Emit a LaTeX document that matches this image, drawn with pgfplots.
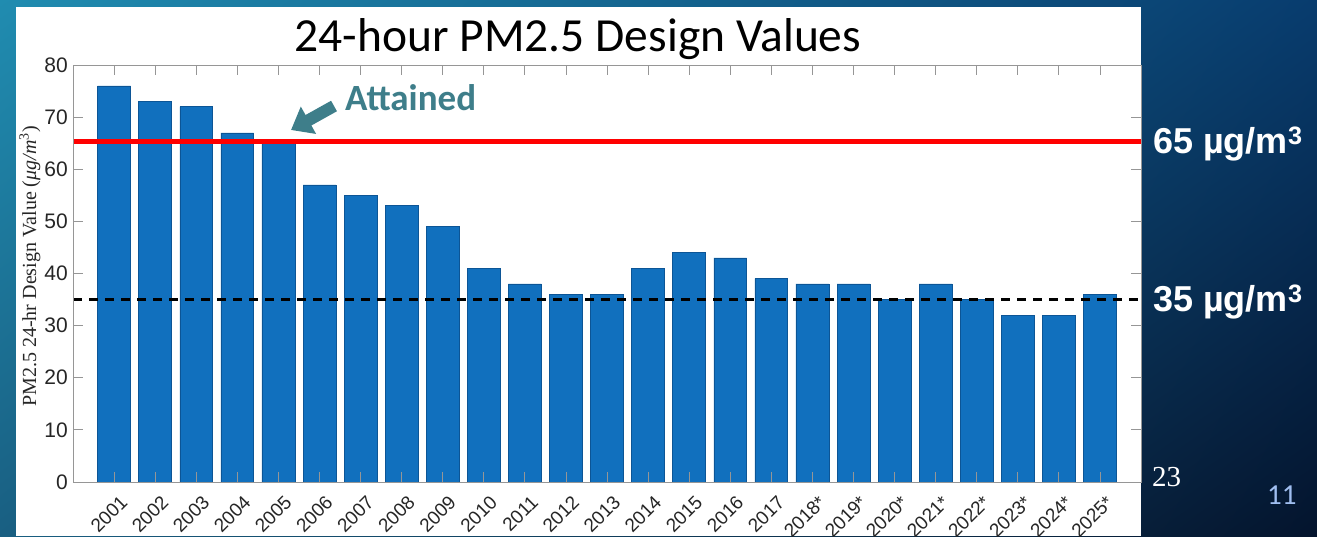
\documentclass[border=0pt]{standalone}
\usepackage{fontspec}
\setmainfont{Liberation Sans}
\newfontfamily\serifont{Liberation Serif}
\newfontfamily\carlito{Carlito}
\usepackage{pgfplots}
\pgfplotsset{compat=1.18}
\usetikzlibrary{arrows.meta,shadings}
\definecolor{barblue}{RGB}{17,112,190}
\definecolor{baredge}{RGB}{12,85,150}
\definecolor{tickgray}{RGB}{38,38,38}
\definecolor{boxgray}{RGB}{150,150,150}
\definecolor{attcol}{RGB}{62,126,138}
\definecolor{numblue}{RGB}{160,190,240}
\definecolor{bgTL}{RGB}{32,140,176}
\definecolor{bgTR}{RGB}{8,60,110}
\definecolor{bgBL}{RGB}{25,95,130}
\definecolor{bgBR}{RGB}{4,20,45}
\begin{document}
\begin{tikzpicture}[x=1pt,y=1pt]
\useasboundingbox (0,0) rectangle (1317,536);
\clip (0,0) rectangle (1317,536);
\shade[upper left=bgTL, upper right=bgTR, lower left=bgBL, lower right=bgBR] (0,0) rectangle (1317,536);
\fill[white] (16,0) rectangle (1141,529);
\begin{axis}[
  at={(73pt,54pt)}, anchor=south west,
  scale only axis, width=1068pt, height=417pt,
  xmin=0, xmax=26, ymin=0, ymax=80,
  xtick={1,...,25},
  xticklabels={2001,2002,2003,2004,2005,2006,2007,2008,2009,2010,2011,2012,2013,2014,2015,2016,2017,2018*,2019*,2020*,2021*,2022*,2023*,2024*,2025*},
  ytick={0,10,...,80},
  tick align=inside,
  major tick length=10pt,
  tick style={boxgray, line width=0.8pt},
  axis line style={boxgray, line width=0.8pt},
  axis on top,
  /pgf/number format/assume math mode=true,
  ticklabel style={text=tickgray},
  yticklabel style={font=\fontsize{21}{22}\selectfont, inner sep=0pt, xshift=-5pt},
  xticklabel style={font=\fontsize{19}{20}\selectfont, inner sep=0pt, xshift=10pt, yshift=-17pt, rotate=45, anchor=east},
  ylabel={PM2.5 24-hr Design Value (\textit{μg/m}\textsuperscript{3})},
  ylabel style={font=\serifont\fontsize{20}{22}\selectfont, text=tickgray, at={(axis description cs:-0.0403,0.517)}, anchor=center},
]
\addplot[ybar, bar width=0.8, fill=barblue, draw=baredge, line width=0.5pt] coordinates {
(1,76) (2,73) (3,72) (4,67) (5,65) (6,57) (7,55) (8,53) (9,49) (10,41)
(11,38) (12,36) (13,36) (14,41) (15,44) (16,43) (17,39) (18,38) (19,38) (20,35)
(21,38) (22,35) (23,32) (24,32) (25,36)};
\addplot[red, line width=5pt] coordinates {(0,65.4) (26,65.4)};
\addplot[black, line width=2.5pt, dash pattern=on 9pt off 7pt] coordinates {(0,35) (26,35)};
\end{axis}
\node[anchor=base, inner sep=0, font=\carlito\fontsize{47.5}{50}\selectfont] at (578,484) {24-hour PM2.5 Design Values};
\node[anchor=base west, inner sep=0, text=attcol, font=\carlito\bfseries\fontsize{37}{40}\selectfont] at (345,425) {Attained};
\draw[attcol, line width=12pt, -{Triangle[length=20pt, width=30pt]}] (334,430) -- (291,406);
\node[anchor=base west, inner sep=0, text=white, font=\bfseries\fontsize{36}{40}\selectfont] at (1153,382) {65 µg/m\textsuperscript{3}};
\node[anchor=base west, inner sep=0, text=white, font=\bfseries\fontsize{36}{40}\selectfont] at (1153,224) {35 µg/m\textsuperscript{3}};
\node[anchor=base west, inner sep=0, text=white, font=\serifont\fontsize{29}{30}\selectfont] at (1152,50) {23};
\node[anchor=base west, inner sep=0, text=numblue, font=\carlito\fontsize{29}{30}\selectfont] at (1267,32) {11};
\end{tikzpicture}
\end{document}
